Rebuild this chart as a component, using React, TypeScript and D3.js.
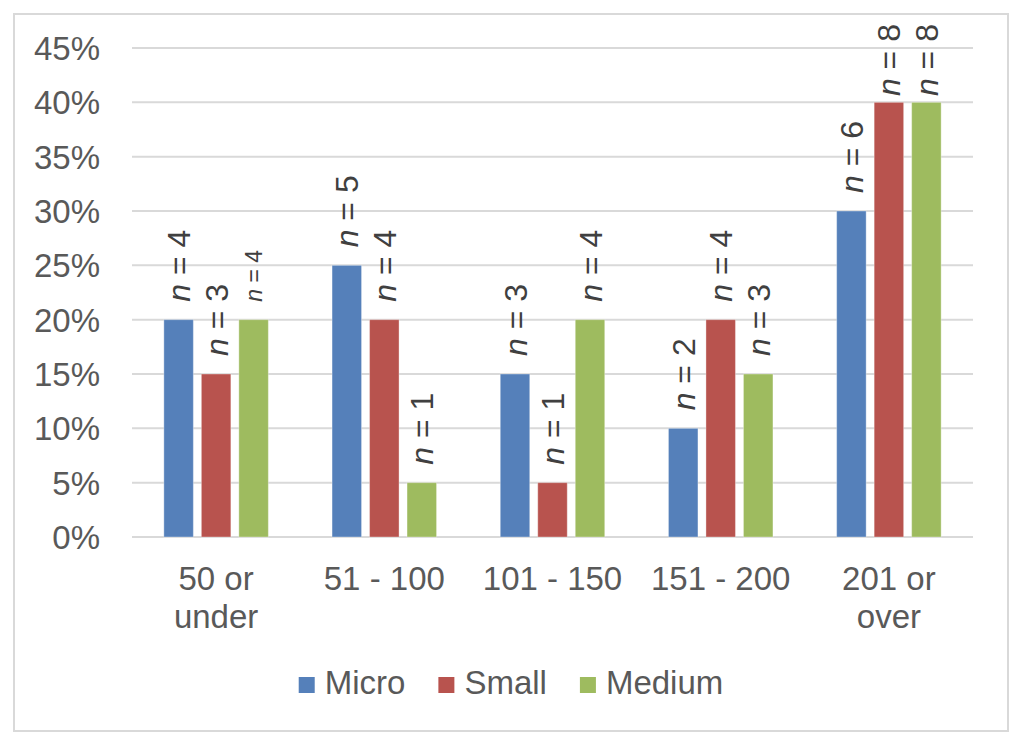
import React, { useEffect, useRef } from "react";
import * as d3 from "d3";

const categories = ["50 or under", "51 - 100", "101 - 150", "151 - 200", "201 or over"];
const categoryLines = [["50 or", "under"], ["51 - 100"], ["101 - 150"], ["151 - 200"], ["201 or", "over"]];
const series = ["Micro", "Small", "Medium"];
const colors = ["#5580BA", "#B8534E", "#9EBB5F"];

// share of respondents (%) per series, one entry per category
const micro = [20, 25, 15, 10, 30];
const small = [15, 20, 5, 20, 40];
const medium = [20, 5, 20, 15, 40];
const values = [micro, small, medium];

// sample sizes shown above the bars
const microN = [4, 5, 3, 2, 6];
const smallN = [3, 4, 1, 4, 8];
const mediumN = [4, 1, 4, 3, 8];
const counts = [microN, smallN, mediumN];

const yTicks = [0, 5, 10, 15, 20, 25, 30, 35, 40, 45];

// the one label that was drawn at a reduced size: [category index, series index]
const shrunkLabels = [[0, 2]];

const FONT = "'Liberation Sans', Arial, sans-serif";
const TEXT = "#595959";

export default function App() {
  const ref = useRef<SVGSVGElement>(null);

  useEffect(() => {
    const svg = d3.select(ref.current);
    svg.selectAll("*").remove();

    const frame = { left: 14, top: 14, right: 1008, bottom: 731 };
    const plot = { left: 132, right: 973, top: 48, bottom: 537 };

    svg.append("rect")
      .attr("x", frame.left).attr("y", frame.top)
      .attr("width", frame.right - frame.left)
      .attr("height", frame.bottom - frame.top)
      .attr("fill", "#fff")
      .attr("stroke", "#d9d9d9")
      .attr("stroke-width", 2);

    const y = d3.scaleLinear().domain([0, 45]).range([plot.bottom, plot.top]);
    const x0 = d3.scaleBand().domain(categories).range([plot.left, plot.right]);
    const x1 = d3.scaleBand().domain(series)
      .range([-56.25, 56.25])
      .paddingInner(0.2133)
      .paddingOuter(0.1067);

    // gridlines and y labels
    const grid = svg.append("g");
    grid.selectAll("line").data(yTicks).join("line")
      .attr("x1", plot.left).attr("x2", plot.right)
      .attr("y1", d => y(d)).attr("y2", d => y(d))
      .attr("stroke", "#d9d9d9").attr("stroke-width", 2);
    grid.selectAll("text").data(yTicks).join("text")
      .attr("x", 100).attr("y", d => y(d))
      .attr("dy", "0.36em")
      .attr("text-anchor", "end")
      .attr("font-family", FONT).attr("font-size", 33).attr("fill", TEXT)
      .text(d => d + "%");

    // bars
    const groups = svg.append("g").selectAll("g").data(categories).join("g")
      .attr("transform", d => `translate(${x0(d)! + x0.bandwidth() / 2},0)`);

    groups.each(function (cat, ci) {
      const g = d3.select(this);
      series.forEach((s, si) => {
        const v = values[si][ci];
        g.append("rect")
          .attr("x", x1(s)!)
          .attr("y", y(v))
          .attr("width", x1.bandwidth())
          .attr("height", y(0) - y(v))
          .attr("fill", colors[si])
          .attr("stroke", "#fff")
          .attr("stroke-opacity", 0.35)
          .attr("stroke-width", 1);
      });
    });

    // rotated n labels
    groups.each(function (cat, ci) {
      const g = d3.select(this);
      series.forEach((s, si) => {
        const v = values[si][ci];
        const shrunk = shrunkLabels.some(([c, k]) => c === ci && k === si);
        const cx = x1(s)! + x1.bandwidth() / 2;
        const t = g.append("text")
          .attr("font-family", FONT)
          .attr("font-size", shrunk ? 23 : 32)
          .attr("fill", "#404040")
          .attr("dy", "0.36em");
        t.append("tspan").attr("font-style", "italic").text("n");
        t.append("tspan").text(" = " + counts[si][ci]);
        const len = (t.node() as SVGTextElement).getComputedTextLength();
        const base = Math.max(y(v) - 18, 24 + len);
        t.attr("transform", `translate(${cx},${base}) rotate(-90)`);
      });
    });

    // category labels
    groups.append("text")
      .attr("text-anchor", "middle")
      .attr("font-family", FONT).attr("font-size", 33).attr("fill", TEXT)
      .selectAll("tspan").data((d, i) => categoryLines[i]).join("tspan")
      .attr("x", 0)
      .attr("y", (d, i) => 590 + i * 38)
      .text(d => d);

    // legend, centered in the frame
    const legend = svg.append("g");
    let cursor = 0;
    series.forEach((s, i) => {
      legend.append("rect")
        .attr("x", cursor).attr("y", -17)
        .attr("width", 16).attr("height", 16)
        .attr("fill", colors[i]);
      const t = legend.append("text")
        .attr("x", cursor + 26).attr("y", 0)
        .attr("font-family", FONT).attr("font-size", 33).attr("fill", TEXT)
        .text(s);
      cursor += 26 + (t.node() as SVGTextElement).getComputedTextLength() + 33;
    });
    const total = cursor - 33;
    legend.attr("transform", `translate(${(frame.left + frame.right) / 2 - total / 2},694)`);
  }, []);

  return (
    <svg ref={ref} width={1024} height={743}
      style={{ position: "absolute", left: 0, top: 0, background: "#fff" }} />
  );
}
